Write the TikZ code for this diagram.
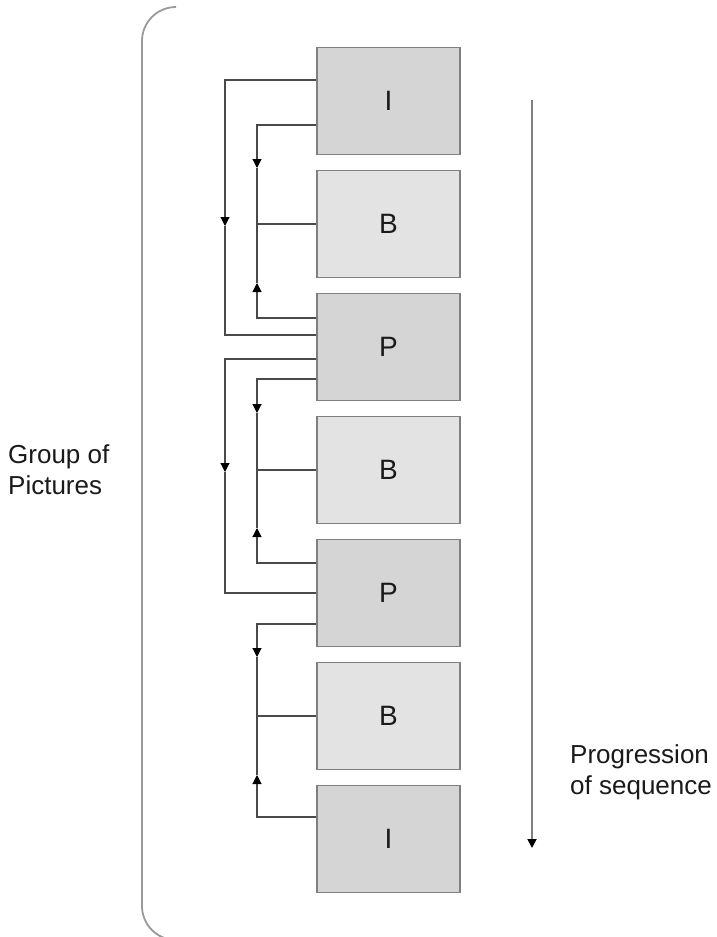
\documentclass[tikz,border=0pt]{standalone}
\usepackage{fontspec}
\setmainfont{Liberation Sans}
\usetikzlibrary{arrows.meta,calc}
\definecolor{darkbox}{HTML}{D5D5D5}
\definecolor{lightbox}{HTML}{E3E3E3}
\definecolor{boxline}{HTML}{7F7F7F}
\definecolor{connline}{HTML}{4A4A4A}
\definecolor{progline}{HTML}{808080}
\definecolor{bracketline}{HTML}{9A9A9A}
\definecolor{labeltext}{HTML}{1A1A1A}
\begin{document}
\begin{tikzpicture}[x=1pt,y=-1pt,
  frame/.style={draw=boxline, line width=1.6pt, minimum width=143pt, minimum height=107pt, inner sep=0pt, text=labeltext, font=\fontsize{28}{30}\selectfont},
  refpic/.style={frame, fill=darkbox},
  bipic/.style={frame, fill=lightbox},
  conn/.style={draw=connline, line width=1.1pt},
  midtip/.style={-{Triangle[width=9pt,length=9pt,fill=black,color=black]}},
  bracket/.style={draw=bracketline, line width=1.8pt, rounded corners=34pt},
  lbl/.style={font=\fontsize{26}{31}\selectfont, align=left, inner sep=0pt, text=labeltext}]
\useasboundingbox[fill=white] (0,0) rectangle (716,937);

% bracket
\draw[bracket] (176,7) -- (142,7) -- (142,940) -- (180,940);

% frames
\node[refpic] (I1) at (388.5,101) {I};
\node[bipic]  (B1) at (388.5,224) {B};
\node[refpic] (P1) at (388.5,347) {P};
\node[bipic]  (B2) at (388.5,470) {B};
\node[refpic] (P2) at (388.5,593) {P};
\node[bipic]  (B3) at (388.5,716) {B};
\node[refpic] (I2) at (388.5,839) {I};

% I1 -> P1 (outer)
\coordinate (a1) at (225,226);
\draw[conn,midtip] ($(I1.west)+(0,-21)$) -| (a1);
\draw[conn] (a1) |- ($(P1.west)+(0,-12)$);
% I1 -> B1, P1 -> B1
\coordinate (a2) at (257,168);
\draw[conn,midtip] ($(I1.west)+(0,24)$) -| (a2);
\draw[conn] (a2) |- (B1.west);
\coordinate (a3) at (257,283);
\draw[conn,midtip] ($(P1.west)+(0,-29)$) -| (a3);
\draw[conn] (a3) -- (a3 |- B1.west);

% P1 -> P2 (outer)
\coordinate (b1) at (225,472);
\draw[conn,midtip] ($(P1.west)+(0,12)$) -| (b1);
\draw[conn] (b1) |- (P2.west);
% P1 -> B2, P2 -> B2
\coordinate (b2) at (257,413);
\draw[conn,midtip] ($(P1.west)+(0,32)$) -| (b2);
\draw[conn] (b2) |- (B2.west);
\coordinate (b3) at (257,528);
\draw[conn,midtip] ($(P2.west)+(0,-30)$) -| (b3);
\draw[conn] (b3) -- (b3 |- B2.west);

% P2 -> B3, I2 -> B3
\coordinate (c2) at (257,657);
\draw[conn,midtip] ($(P2.west)+(0,31)$) -| (c2);
\draw[conn] (c2) |- (B3.west);
\coordinate (c3) at (257,775);
\draw[conn,midtip] ($(I2.west)+(0,-22)$) -| (c3);
\draw[conn] (c3) -- (c3 |- B3.west);

% progression arrow
\coordinate (p0) at (532,100);
\coordinate (p1) at (532,848);
\draw[draw=progline, line width=1.8pt, midtip] (p0) -- (p1);

% labels
\node[lbl, anchor=north west] (gop) at (8,444) {Group of\\Pictures};
\node[lbl, anchor=north west] (prog) at (570,744) {Progression\\of sequence};
\end{tikzpicture}
\end{document}
